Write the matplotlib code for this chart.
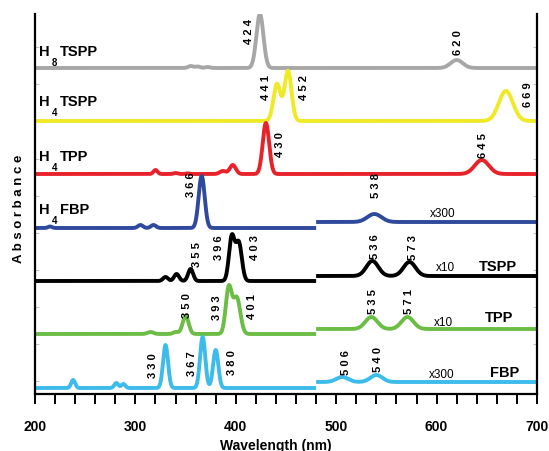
import numpy as np
import matplotlib
matplotlib.use("Agg")
import matplotlib.pyplot as plt

plt.rcParams['font.family'] = ['Liberation Sans', 'DejaVu Sans']

# ---------------- data ----------------
wl = np.linspace(200, 700, 2501)

# each series: peak centres (nm), heights (a.u.), widths (sigma nm)
gray_c = [355, 362, 372, 424, 620]
gray_h = [2.0, 1.5, 1.0, 54, 8]
gray_w = [2.5, 2.5, 2.5, 3.5, 6]

yel_c = [441, 452, 669]
yel_h = [37, 50, 30]
yel_w = [3.5, 3.5, 7]

red_c = [320, 340, 352, 387, 397, 430, 645]
red_h = [4, 1, 0.6, 3, 9, 51, 14]
red_w = [2, 2, 2, 3, 3, 3.2, 7]

blue_c_uv = [215, 305, 318, 366]
blue_h_uv = [1.5, 3, 3, 52]
blue_w_uv = [2, 2.5, 2.5, 3]
blue_c_vis = [538]
blue_h_vis = [8]
blue_w_vis = [7]

blk_c_uv = [330, 341, 355, 396, 403]
blk_h_uv = [4, 7, 12, 44, 38]
blk_w_uv = [2.5, 2.5, 2.5, 2.8, 3.0]
blk_c_vis = [536, 573]
blk_h_vis = [15, 14]
blk_w_vis = [6, 6]

grn_c_uv = [315, 340, 350, 393, 401]
grn_h_uv = [2, 2, 18, 46, 36]
grn_w_uv = [3, 2.5, 3, 3, 3.5]
grn_c_vis = [535, 571]
grn_h_vis = [12, 12]
grn_w_vis = [6, 6]

cyn_c_uv = [238, 281, 288, 330, 367, 380]
cyn_h_uv = [8, 5, 4, 43, 51, 38]
cyn_w_uv = [2, 2, 2, 2.5, 2.6, 2.6]
cyn_c_vis = [506, 540]
cyn_h_vis = [5, 7]
cyn_w_vis = [6, 6]

split_nm = 480

# ---------------- helpers ----------------
def spectrum(x, cs, hs, ws):
    y = np.zeros_like(x)
    for c, h, w in zip(cs, hs, ws):
        y += h * np.exp(-0.5 * ((x - c) / w) ** 2)
    return y

fig = plt.figure(figsize=(5.49, 4.52), dpi=100)
ax = fig.add_axes([35/549, 1-395/452, (537-35)/549, (395-15)/452])
ax.set_xlim(200, 700)
ax.set_ylim(0, 380)

LW = 2.8
col_gray = '#A7A7A7'
col_yel = '#F0E926'
col_red = '#E8222A'
col_blue = '#2F4A9C'
col_blk = '#000000'
col_grn = '#6BBD45'
col_cyn = '#3DBBEB'

# full-range spectra
ax.plot(wl, 326 + spectrum(wl, gray_c, gray_h, gray_w), color=col_gray, lw=LW, solid_capstyle='butt')
ax.plot(wl, 273 + spectrum(wl, yel_c, yel_h, yel_w), color=col_yel, lw=LW, solid_capstyle='butt')
ax.plot(wl, 220 + spectrum(wl, red_c, red_h, red_w), color=col_red, lw=LW, solid_capstyle='butt')

# split spectra (UV part and magnified visible part)
uv = wl[wl <= split_nm]
vis = wl[wl >= split_nm]
for base, off, col, cu, hu, wu, cv, hv, wv in [
        (166, 6, col_blue, blue_c_uv, blue_h_uv, blue_w_uv, blue_c_vis, blue_h_vis, blue_w_vis),
        (113, 5, col_blk, blk_c_uv, blk_h_uv, blk_w_uv, blk_c_vis, blk_h_vis, blk_w_vis),
        (60, 5, col_grn, grn_c_uv, grn_h_uv, grn_w_uv, grn_c_vis, grn_h_vis, grn_w_vis),
        (6, 6, col_cyn, cyn_c_uv, cyn_h_uv, cyn_w_uv, cyn_c_vis, cyn_h_vis, cyn_w_vis)]:
    ax.plot(uv, base + spectrum(uv, cu, hu, wu), color=col, lw=LW, solid_capstyle='butt')
    ax.plot(vis, base + off + spectrum(vis, cv, hv, wv), color=col, lw=LW, solid_capstyle='butt')

# peak labels
peak_labels = [
    (413, 364, '424'), (621, 352, '620'),
    (430, 307, '441'), (468, 307, '452'), (691, 300, '669'),
    (444, 250, '430'), (646, 249, '645'),
    (355, 210, '366'), (540, 209, '538'),
    (361, 140, '355'), (383, 147, '396'), (419, 147, '403'), (539, 148, '536'), (576, 147, '573'),
    (351, 89, '350'), (381, 87, '393'), (416, 88, '401'), (537, 93, '535'), (573, 93, '571'),
    (318, 29, '330'), (356, 31, '367'), (396, 32, '380'), (510, 32, '506'), (542, 35, '540'),
]
for x, y, t in peak_labels:
    ax.text(x, y, ' '.join(t), rotation=90, ha='center', va='center',
            fontsize=8, fontweight='bold')

# compound labels (H with subscript)
def hlabel(y, sub, rest):
    ax.text(204, y, 'H', ha='left', va='center', fontsize=10.5, fontweight='bold')
    ax.text(217, y - 11, sub, ha='left', va='center', fontsize=7, fontweight='bold')
    ax.text(225, y, rest, ha='left', va='center', fontsize=10.5, fontweight='bold')

hlabel(343, '8', 'TSPP')
hlabel(293, '4', 'TSPP')
hlabel(238, '4', 'TPP')
hlabel(185, '4', 'FBP')

# magnification / name labels
ax.text(606, 181, 'x300', ha='center', va='center', fontsize=8.5)
ax.text(609, 127, 'x10', ha='center', va='center', fontsize=8.5)
ax.text(661, 128, 'TSPP', ha='center', va='center', fontsize=10.5, fontweight='bold')
ax.text(607, 72, 'x10', ha='center', va='center', fontsize=8.5)
ax.text(662, 77, 'TPP', ha='center', va='center', fontsize=10.5, fontweight='bold')
ax.text(605, 20, 'x300', ha='center', va='center', fontsize=8.5)
ax.text(668, 22, 'FBP', ha='center', va='center', fontsize=10.5, fontweight='bold')

# axes styling
ax.spines['top'].set_visible(False)
for s in ['left', 'right', 'bottom']:
    ax.spines[s].set_linewidth(1.6)
ax.set_xticks(np.arange(200, 701, 100))
ax.set_xticks(np.arange(200, 701, 20), minor=True)
ax.tick_params(axis='x', which='both', direction='out', length=7, width=1.4, pad=11)
ax.tick_params(axis='x', which='major', labelsize=10)
for lab in ax.get_xticklabels():
    lab.set_fontweight('bold')
ax.set_yticks([13, 50, 87, 124, 161, 198, 235, 273, 310, 347])
ax.set_yticklabels([])
ax.tick_params(axis='y', which='major', direction='in', length=3, width=0.5,
               color='#AAAAAA', left=True, right=True)

ax.set_xlabel('Wavelength (nm)', fontsize=10, fontweight='bold')
ax.xaxis.set_label_coords(0.48, -0.115)
ax.set_ylabel(' '.join('Absorbance'), fontsize=9.5, fontweight='bold')
ax.yaxis.set_label_coords(-0.02, 0.49)

fig.savefig('out.png', dpi=100)
